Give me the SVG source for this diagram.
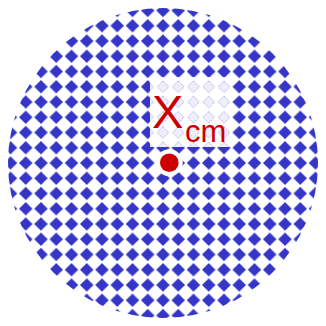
<svg xmlns="http://www.w3.org/2000/svg" width="326" height="326" viewBox="0 0 326 326">
  <defs>
    <pattern id="dia" patternUnits="userSpaceOnUse" x="2.875" y="2.875" width="15.25" height="15.25">
      <path d="M7.625 0.9 L14.35 7.625 L7.625 14.35 L0.9 7.625 Z" fill="#3434c8"/>
    </pattern>
    <pattern id="diaFaint" patternUnits="userSpaceOnUse" x="2.875" y="2.875" width="15.25" height="15.25">
      <path d="M7.625 2 L13.25 7.625 L7.625 13.25 L2 7.625 Z" fill="none" stroke="#9a9ae0" stroke-width="0.8" stroke-dasharray="1.5 1.5"/>
    </pattern>
    <filter id="soft" x="-5%" y="-5%" width="110%" height="110%">
      <feGaussianBlur stdDeviation="0.6"/>
    </filter>
  </defs>
  <rect width="326" height="326" fill="#ffffff"/>
  <g id="disc">
    <circle cx="163" cy="163" r="155" fill="url(#dia)" filter="url(#soft)"/>
  </g>
  <g id="label">
    <rect x="150" y="77" width="81" height="70" fill="#ffffff" opacity="0.92"/>
    <rect x="150" y="77" width="81" height="70" fill="url(#diaFaint)"/>
    <text x="152" y="128" font-family="Liberation Sans, Arial, sans-serif" font-size="47" fill="#cc0000">X</text>
    <text x="185" y="141.5" font-family="Liberation Sans, Arial, sans-serif" font-size="31" fill="#cc0000">cm</text>
  </g>
  <g id="center-of-mass">
    <circle cx="169.3" cy="162.7" r="13.5" fill="#ffffff"/>
    <circle cx="169.3" cy="162.7" r="9.3" fill="#cc0000"/>
  </g>
</svg>
